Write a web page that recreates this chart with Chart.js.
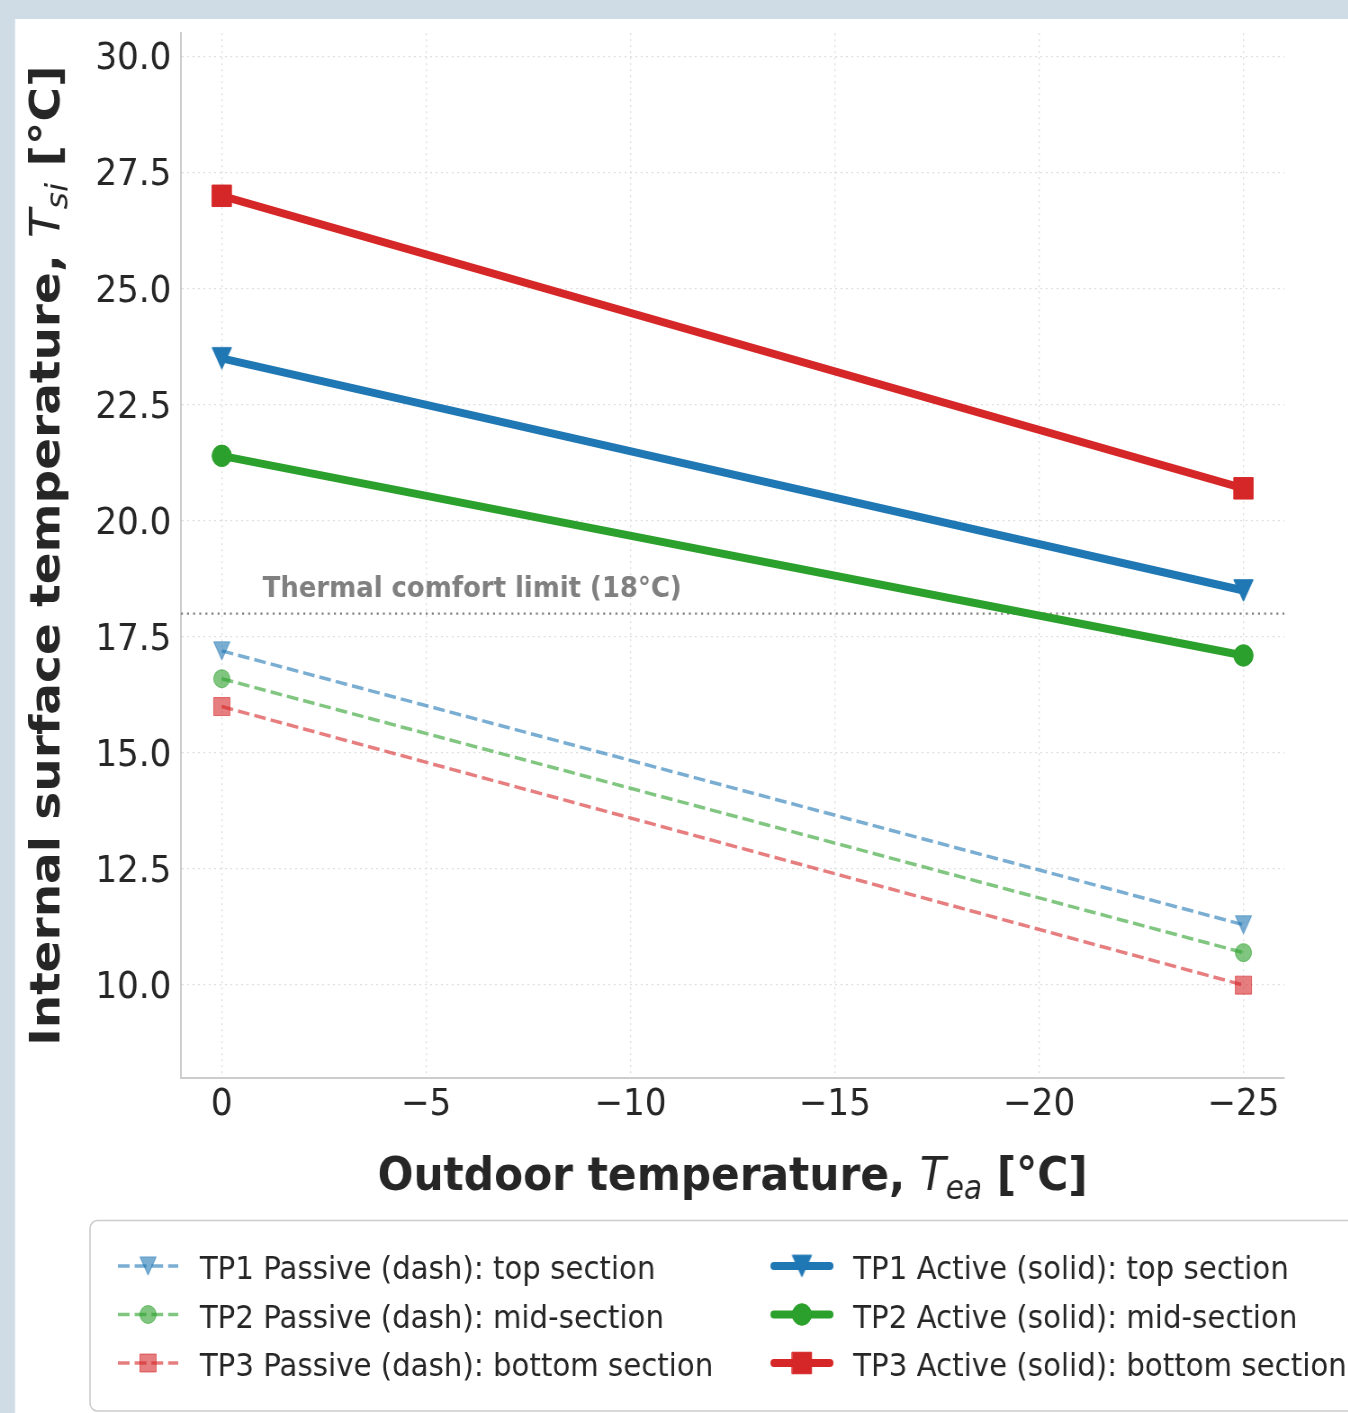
<!DOCTYPE html>
<html>
<head>
<meta charset="utf-8">
<script src="https://cdn.jsdelivr.net/npm/chart.js@4.4.1/dist/chart.umd.min.js"></script>
<style>
html,body{margin:0;padding:0;overflow:hidden;background:#cfdce6;width:1348px;height:1413px;}
#wrap{width:1498px;height:1413px;transform:scaleX(0.9);transform-origin:0 0;}
canvas{display:block;}
</style>
</head>
<body>
<div id="wrap"><canvas id="c" width="1498" height="1413"></canvas></div>
<script>
// ---------------- data ----------------
const outdoorTemps = [0, -25];
const tp1Passive = [17.2, 11.3];
const tp2Passive = [16.6, 10.7];
const tp3Passive = [16.0, 10.0];
const tp1Active = [23.5, 18.5];
const tp2Active = [21.4, 17.1];
const tp3Active = [27.0, 20.7];
const comfortLimit = 18;
const comfortLabel = 'Thermal comfort limit (18°C)';
const xTicks = [0, -5, -10, -15, -20, -25];
const yTicks = [10.0, 12.5, 15.0, 17.5, 20.0, 22.5, 25.0, 27.5, 30.0];
const xRange = [-26, 1];
const yRange = [8, 30.5];
const passiveLabels = ['TP1 Passive (dash): top section', 'TP2 Passive (dash): mid-section', 'TP3 Passive (dash): bottom section'];
const activeLabels = ['TP1 Active (solid): top section', 'TP2 Active (solid): mid-section', 'TP3 Active (solid): bottom section'];

// ---------------- style ----------------
const W = 1498, H = 1413;
const FONT = "'DejaVu Sans', sans-serif";
const TXT = '#262626';
const seriesColors = ['#1f77b4', '#2ca02c', '#d62728'];
const markerShapes = ['triangleDown', 'circle', 'rect'];

function rgba(hex, a) {
  const n = parseInt(hex.slice(1), 16);
  return `rgba(${(n >> 16) & 255},${(n >> 8) & 255},${n & 255},${a})`;
}
function triImg(size, fill, stroke) {
  const c = document.createElement('canvas');
  const w = Math.ceil(size + 3);
  c.width = w; c.height = w;
  const g = c.getContext('2d');
  const cx = w / 2, h = size / 2;
  g.beginPath();
  g.moveTo(cx - h, cx - h); g.lineTo(cx + h, cx - h); g.lineTo(cx, cx + h); g.closePath();
  g.fillStyle = fill; g.fill();
  g.lineWidth = 1; g.strokeStyle = stroke; g.stroke();
  return c;
}
function marker(shape, size, fill, stroke) {
  if (shape === 'triangleDown') return {pointStyle: triImg(size, fill, stroke), pointRadius: size / 2};
  if (shape === 'circle') return {pointStyle: 'circle', pointRadius: size / 2};
  return {pointStyle: 'rect', pointRadius: size / Math.SQRT2};
}
function pts(ys) { return outdoorTemps.map((x, i) => ({x: x, y: ys[i]})); }

const datasets = [];
[tp1Passive, tp2Passive, tp3Passive].forEach((ys, i) => {
  const c = rgba(seriesColors[i], 0.6);
  const m = marker(markerShapes[i], 18, c, c);
  datasets.push(Object.assign({
    label: passiveLabels[i], data: pts(ys),
    borderColor: c, backgroundColor: c, borderWidth: 3.5, borderDash: [13, 5.6], borderCapStyle: 'butt',
    pointBackgroundColor: c, pointBorderColor: c, pointBorderWidth: 1,
    order: 6 - i, tension: 0
  }, m));
});
[tp1Active, tp2Active, tp3Active].forEach((ys, i) => {
  const c = seriesColors[i];
  const m = marker(markerShapes[i], 21.5, c, c);
  datasets.push(Object.assign({
    label: activeLabels[i], data: pts(ys),
    borderColor: c, backgroundColor: c, borderWidth: 8, borderCapStyle: 'round', borderJoinStyle: 'round',
    pointBackgroundColor: c, pointBorderColor: c, pointBorderWidth: 1,
    order: 3 - i, tension: 0
  }, m));
});

// ---------------- plugins ----------------
const bgPlugin = {
  id: 'bg',
  beforeDraw(chart) {
    const ctx = chart.ctx;
    ctx.save();
    ctx.fillStyle = '#cfdce6'; ctx.fillRect(0, 0, W, H);
    ctx.fillStyle = '#ffffff'; ctx.fillRect(16.7, 19, W, H);
    ctx.restore();
  }
};
const comfortPlugin = {
  id: 'comfort',
  beforeDatasetsDraw(chart) {
    const ctx = chart.ctx, a = chart.chartArea;
    const y = chart.scales.y.getPixelForValue(comfortLimit);
    ctx.save();
    ctx.beginPath();
    ctx.setLineDash([2.2, 4.6]);
    ctx.lineWidth = 2.2; ctx.strokeStyle = '#808080';
    ctx.moveTo(a.left, y); ctx.lineTo(a.right, y); ctx.stroke();
    ctx.setLineDash([]);
    ctx.font = `bold 28.8px ${FONT}`; ctx.fillStyle = '#808080';
    ctx.textAlign = 'left'; ctx.textBaseline = 'alphabetic';
    ctx.fillText(comfortLabel, chart.scales.x.getPixelForValue(-1), y - 17);
    ctx.restore();
  }
};
function richWidth(ctx, segs) {
  return segs.reduce((w, s) => { ctx.font = s.font; return w + ctx.measureText(s.text).width; }, 0);
}
function drawRich(ctx, segs, x0, y0) {
  let x = x0;
  segs.forEach(s => { ctx.font = s.font; ctx.fillText(s.text, x, y0 + (s.dy || 0)); x += ctx.measureText(s.text).width; });
}
const titlePlugin = {
  id: 'titles',
  afterDraw(chart) {
    const ctx = chart.ctx, a = chart.chartArea;
    const B = `bold 47px ${FONT}`, I = `italic 47px ${FONT}`, S = `italic 33px ${FONT}`;
    ctx.save();
    ctx.fillStyle = TXT; ctx.textAlign = 'left'; ctx.textBaseline = 'alphabetic';
    const xs = [{text: 'Outdoor temperature, ', font: B}, {text: 'T', font: I}, {text: 'ea', font: S, dy: 9}, {text: ' [°C]', font: B}];
    const xw = richWidth(ctx, xs);
    drawRich(ctx, xs, (a.left + a.right) / 2 - xw / 2, 1190);
    const ys = [{text: 'Internal surface temperature, ', font: B}, {text: 'T', font: I}, {text: 'si', font: S, dy: 9}, {text: ' [°C]', font: B}];
    const yw = richWidth(ctx, ys);
    ctx.translate(66, (a.top + a.bottom) / 2);
    ctx.rotate(-Math.PI / 2);
    drawRich(ctx, ys, -yw / 2, 0);
    ctx.restore();
  }
};
function drawMarker(ctx, ds, x, y) {
  ctx.fillStyle = ds.pointBackgroundColor; ctx.strokeStyle = ds.pointBorderColor; ctx.lineWidth = ds.pointBorderWidth;
  if (Chart.helpers && Chart.helpers.drawPoint) {
    Chart.helpers.drawPoint(ctx, {pointStyle: ds.pointStyle, rotation: 0, radius: ds.pointRadius, borderWidth: ds.pointBorderWidth}, x, y);
    return;
  }
  const ps = ds.pointStyle, r = ds.pointRadius;
  if (typeof ps === 'object') { ctx.drawImage(ps, x - ps.width / 2, y - ps.height / 2); return; }
  ctx.beginPath();
  if (ps === 'circle') ctx.arc(x, y, r, 0, Math.PI * 2);
  else { const s = r * Math.SQRT1_2; ctx.rect(x - s, y - s, 2 * s, 2 * s); }
  ctx.fill(); ctx.stroke();
}
const legendPlugin = {
  id: 'legendBox',
  afterDraw(chart) {
    const ctx = chart.ctx;
    ctx.save();
    const L = 100, T = 1220.5, Bt = 1411, R = W + 40, rad = 8;
    ctx.beginPath();
    ctx.moveTo(L + rad, T); ctx.lineTo(R, T); ctx.lineTo(R, Bt); ctx.lineTo(L + rad, Bt);
    ctx.arcTo(L, Bt, L, Bt - rad, rad); ctx.lineTo(L, T + rad); ctx.arcTo(L, T, L + rad, T, rad);
    ctx.closePath();
    ctx.fillStyle = '#ffffff'; ctx.fill();
    ctx.lineWidth = 1.6; ctx.strokeStyle = '#cccccc'; ctx.stroke();
    const cols = [{h0: 131, h1: 198, tx: 222}, {h0: 856, h1: 926, tx: 948}];
    const rows = [1266, 1314.5, 1363];
    chart.data.datasets.forEach((ds, i) => {
      const col = cols[Math.floor(i / 3)], y = rows[i % 3];
      ctx.save();
      ctx.beginPath();
      ctx.lineWidth = ds.borderWidth; ctx.strokeStyle = ds.borderColor;
      ctx.setLineDash(ds.borderDash || []);
      ctx.lineCap = ds.borderCapStyle || 'butt';
      const inset = ctx.lineCap === 'round' ? ds.borderWidth / 2 : 0;
      ctx.moveTo(col.h0 + inset, y); ctx.lineTo(col.h1 - inset, y); ctx.stroke();
      ctx.setLineDash([]);
      drawMarker(ctx, ds, (col.h0 + col.h1) / 2, y);
      ctx.restore();
      ctx.fillStyle = TXT; ctx.font = `32.5px ${FONT}`;
      ctx.textBaseline = 'alphabetic'; ctx.textAlign = 'left';
      ctx.fillText(ds.label, col.tx, y + 13);
    });
    ctx.restore();
  }
};

// ---------------- chart ----------------
Chart.defaults.font.family = FONT;
new Chart(document.getElementById('c'), {
  type: 'line',
  data: {datasets: datasets},
  plugins: [bgPlugin, comfortPlugin, titlePlugin, legendPlugin],
  options: {
    responsive: false,
    animation: false,
    events: [],
    layout: {padding: {left: 0, top: 31, right: 71, bottom: 0}},
    plugins: {legend: {display: false}, tooltip: {enabled: false}, title: {display: false}},
    scales: {
      x: {
        type: 'linear', reverse: true, min: xRange[0], max: xRange[1],
        afterBuildTicks: s => { s.ticks = xTicks.map(v => ({value: v})); },
        afterFit: s => { s.height = 335; },
        ticks: {
          callback: v => (v < 0 ? '\u2212' + Math.abs(v) : String(v)),
          font: {family: FONT, size: 38}, color: TXT, padding: 4,
          maxRotation: 0, minRotation: 0, autoSkip: false
        },
        grid: {color: '#dddddd', lineWidth: 1.3, drawTicks: false},
        border: {display: true, color: '#cccccc', width: 2, dash: [2, 4]}
      },
      y: {
        type: 'linear', min: yRange[0], max: yRange[1],
        afterBuildTicks: s => { s.ticks = yTicks.map(v => ({value: v})); },
        afterFit: s => { s.width = 201; },
        ticks: {
          callback: v => Number(v).toFixed(1),
          font: {family: FONT, size: 38}, color: TXT, padding: 10.5, autoSkip: false,
          labelOffset: 3
        },
        grid: {color: '#dddddd', lineWidth: 1.3, drawTicks: false},
        border: {display: true, color: '#cccccc', width: 2, dash: [2, 4]}
      }
    }
  }
});
</script>
</body>
</html>
